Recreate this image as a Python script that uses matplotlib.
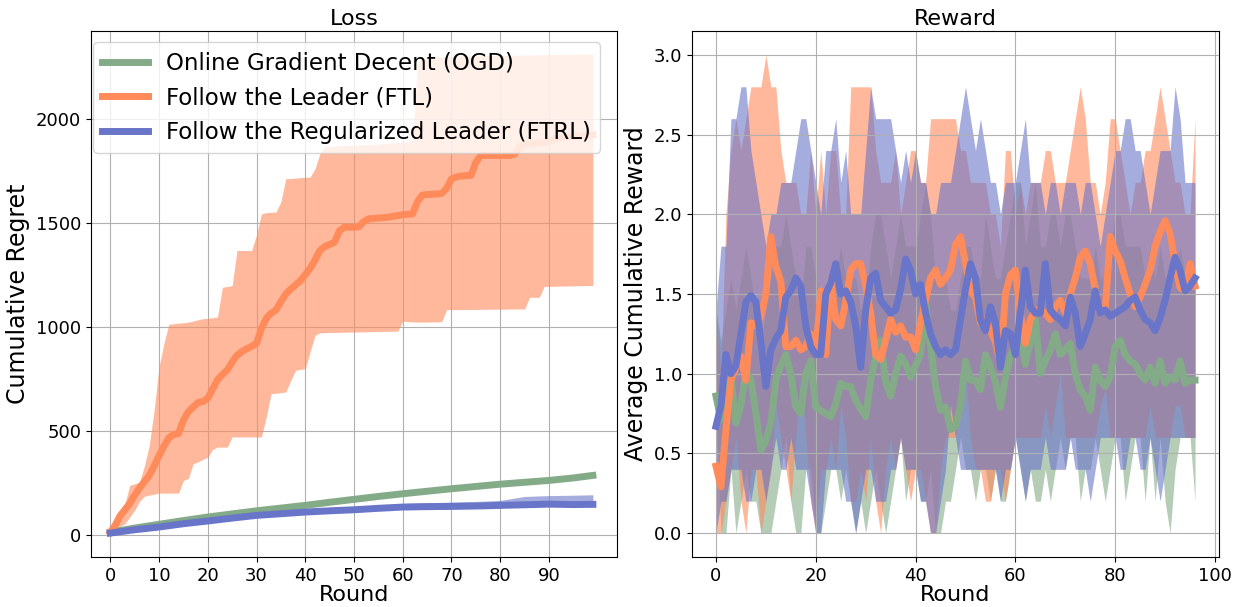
import numpy as np
import matplotlib
matplotlib.use("Agg")
import matplotlib.pyplot as plt

# ---------------- colours ----------------
C_OGD = "#84ab88"
C_FTL = "#ff8a5a"
C_FTRL = "#6975c8"

labels = ["Online Gradient Decent (OGD)", "Follow the Leader (FTL)",
          "Follow the Regularized Leader (FTRL)"]

# ---------------- Loss panel data ----------------
loss_rounds = list(range(0, 100))

ftl_mean = [12, 45, 90, 120, 150, 190, 225, 255, 285, 330,
            380, 425, 465, 482, 486, 550, 590, 614, 635, 640,
            655, 700, 745, 770, 792, 830, 862, 880, 894, 905,
            920, 990, 1040, 1065, 1080, 1120, 1157, 1180, 1200, 1221,
            1250, 1280, 1320, 1366, 1385, 1395, 1406, 1460, 1478, 1478,
            1478, 1480, 1505, 1518, 1520, 1522, 1524, 1526, 1530, 1534,
            1538, 1540, 1542, 1600, 1632, 1635, 1636, 1638, 1640, 1665,
            1710, 1720, 1724, 1726, 1727, 1790, 1823, 1823, 1823, 1823,
            1823, 1823, 1823, 1830, 1865, 1875, 1880, 1882, 1884, 1886,
            1890, 1900, 1905, 1908, 1910, 1912, 1915, 1918, 1920, 1922]

ftl_upper = [12, 50, 100, 149, 237, 245, 253, 330, 430, 598,
             806, 918, 1011, 1014, 1017, 1019, 1022, 1027, 1033, 1038,
             1040, 1043, 1046, 1189, 1193, 1197, 1366, 1366, 1366, 1366,
             1440, 1542, 1548, 1550, 1551, 1600, 1711, 1712, 1714, 1716,
             1718, 1719, 1760, 1831, 1864, 1866, 1868, 1869, 1870, 1871,
             1872, 1874, 1875, 1876, 1877, 1878, 1880, 1882, 1884, 1886,
             1888, 1889, 1890, 2260, 2295, 2296, 2297, 2297, 2298, 2298,
             2299, 2299, 2300, 2300, 2301, 2301, 2302, 2302, 2303, 2303,
             2304, 2304, 2305, 2305, 2306, 2306, 2306, 2307, 2307, 2307,
             2308, 2308, 2308, 2309, 2309, 2309, 2310, 2310, 2310, 2310]

ftl_lower = [12, 25, 40, 53, 85, 117, 160, 185, 190, 195,
             200, 200, 200, 200, 200, 261, 270, 341, 350, 362,
             373, 410, 421, 421, 421, 470, 470, 470, 470, 470,
             470, 470, 566, 678, 680, 683, 686, 740, 790, 795,
             798, 880, 958, 970, 971, 972, 972, 973, 973, 974,
             974, 975, 975, 976, 976, 977, 977, 978, 978, 979,
             1027, 1024, 1023, 1022, 1022, 1022, 1023, 1023, 1024, 1082,
             1082, 1082, 1082, 1083, 1083, 1083, 1083, 1084, 1084, 1084,
             1084, 1084, 1085, 1085, 1085, 1085, 1141, 1141, 1141, 1193,
             1194, 1194, 1195, 1195, 1196, 1196, 1197, 1197, 1198, 1198]

smooth_rounds = [0, 5, 10, 15, 20, 25, 30, 35, 40, 45,
                 50, 55, 60, 65, 70, 75, 80, 85, 90, 95, 99]
ogd_mean = [12, 32, 50, 68, 85, 100, 115, 128, 141, 156,
            170, 184, 197, 209, 221, 232, 243, 252, 261, 273, 285]
ogd_upper = [12, 33, 52, 70, 87, 102, 117, 130, 143, 158,
             172, 186, 199, 211, 223, 234, 245, 254, 263, 275, 287]
ogd_lower = [12, 31, 48, 66, 83, 98, 113, 126, 139, 154,
             168, 182, 195, 207, 219, 230, 241, 250, 259, 271, 283]
ftrl_mean = [8, 24, 37, 53, 66, 80, 93, 101, 109, 115,
             120, 127, 133, 135, 136, 138, 141, 144, 147, 145, 146]
ftrl_upper = [9, 26, 40, 56, 70, 84, 97, 106, 114, 122,
              128, 140, 150, 154, 157, 160, 165, 184, 188, 190, 192]
ftrl_lower = [6, 21, 34, 50, 62, 76, 89, 97, 104, 110,
              115, 121, 127, 129, 131, 133, 136, 139, 141, 140, 141]

loss_xticks = [0, 10, 20, 30, 40, 50, 60, 70, 80, 90]
loss_yticks = [0, 500, 1000, 1500, 2000]

# ---------------- Reward panel data ----------------
reward_rounds = list(range(0, 97))

ogd_rew = [0.86, 0.71, 0.79, 0.98, 0.69, 0.80, 1.02, 0.96, 0.75, 0.52,
           0.58, 0.69, 0.96, 1.05, 1.12, 1.00, 0.79, 0.75, 1.00, 1.08,
           0.79, 0.77, 0.75, 0.73, 0.81, 0.94, 0.92, 0.92, 0.83, 0.78,
           0.73, 0.96, 1.10, 1.21, 0.95, 0.86, 1.00, 1.11, 1.06, 0.98,
           1.05, 1.12, 1.44, 1.17, 0.92, 0.77, 0.79, 0.65, 0.67, 0.80,
           1.08, 0.96, 0.96, 0.90, 1.12, 1.04, 0.95, 0.79, 0.98, 1.11,
           1.18, 1.25, 1.06, 1.20, 1.34, 1.00, 1.08, 1.15, 1.25, 1.12,
           1.15, 1.19, 1.00, 0.90, 0.86, 0.77, 1.04, 0.96, 0.92, 0.98,
           1.17, 1.21, 1.12, 1.08, 1.06, 1.00, 0.96, 1.04, 0.94, 1.08,
           0.94, 0.98, 0.96, 1.08, 0.94, 0.96, 0.96]

ftl_rew = [0.42, 0.29, 0.65, 0.96, 1.04, 1.11, 0.96, 1.32, 1.30, 1.36,
           1.50, 1.86, 1.67, 1.58, 1.17, 1.17, 1.21, 1.15, 1.17, 1.25,
           1.12, 1.52, 1.12, 1.59, 1.34, 1.30, 1.45, 1.65, 1.69, 1.69,
           1.55, 1.38, 1.12, 1.09, 1.21, 1.34, 1.26, 1.30, 1.23, 1.23,
           1.15, 1.32, 1.46, 1.60, 1.65, 1.56, 1.60, 1.65, 1.81, 1.86,
           1.69, 1.52, 1.48, 1.32, 1.34, 1.27, 1.20, 1.06, 1.50, 1.62,
           1.65, 1.38, 1.19, 1.34, 1.40, 1.40, 1.38, 1.34, 1.42, 1.46,
           1.38, 1.50, 1.60, 1.73, 1.77, 1.69, 1.53, 1.38, 1.40, 1.86,
           1.77, 1.71, 1.60, 1.50, 1.42, 1.48, 1.56, 1.65, 1.80, 1.89,
           1.96, 1.88, 1.69, 1.54, 1.52, 1.69, 1.55]

ftrl_rew = [0.67, 0.80, 1.12, 1.00, 1.05, 1.25, 1.45, 1.49, 1.45, 1.20,
            0.92, 1.15, 1.22, 1.27, 1.48, 1.52, 1.60, 1.55, 1.30, 1.17,
            1.12, 1.12, 1.50, 1.57, 1.69, 1.50, 1.52, 1.45, 1.30, 1.04,
            1.40, 1.60, 1.63, 1.46, 1.42, 1.38, 1.40, 1.53, 1.72, 1.65,
            1.50, 1.56, 1.38, 1.25, 1.17, 1.12, 1.15, 1.12, 1.15, 1.34,
            1.53, 1.69, 1.60, 1.34, 1.27, 1.42, 1.32, 1.04, 1.27, 1.25,
            1.12, 1.38, 1.65, 1.42, 1.38, 1.38, 1.69, 1.40, 1.36, 1.34,
            1.30, 1.48, 1.38, 1.17, 1.25, 1.34, 1.52, 1.38, 1.40, 1.36,
            1.38, 1.40, 1.42, 1.46, 1.48, 1.40, 1.34, 1.32, 1.27, 1.35,
            1.46, 1.60, 1.73, 1.65, 1.52, 1.55, 1.60]

ogd_rew_hi = [1.4, 1.2, 1.4, 1.6, 1.4, 1.6, 1.8, 1.6, 1.4, 1.2,
              1.4, 1.6, 1.8, 1.8, 2.0, 1.8, 1.6, 1.4, 1.8, 1.8,
              1.6, 1.4, 1.4, 1.4, 1.6, 1.8, 1.6, 1.6, 1.6, 1.4,
              1.4, 1.8, 2.0, 2.0, 1.8, 1.6, 1.8, 2.0, 1.8, 1.8,
              1.8, 2.0, 2.2, 2.0, 1.6, 1.6, 1.6, 1.4, 1.4, 1.6,
              1.8, 1.8, 1.6, 1.6, 2.0, 1.8, 1.6, 1.6, 1.8, 2.0,
              2.2, 2.2, 1.8, 2.0, 2.2, 1.8, 1.8, 2.0, 2.0, 1.8,
              2.0, 2.0, 1.8, 1.6, 1.6, 1.6, 1.8, 1.6, 1.6, 1.8,
              2.0, 2.0, 1.8, 1.8, 1.8, 1.8, 1.6, 1.8, 1.6, 1.8,
              1.6, 1.6, 1.6, 1.8, 1.6, 1.6, 1.6]
ogd_rew_lo = [0.8, 0.0, 0.0, 0.4, 0.0, 0.2, 0.4, 0.2, 0.2, 0.0,
              0.0, 0.0, 0.2, 0.4, 0.6, 0.2, 0.0, 0.0, 0.4, 0.4,
              0.0, 0.0, 0.2, 0.4, 0.4, 0.2, 0.4, 0.2, 0.0, 0.2,
              0.0, 0.2, 0.4, 0.2, 0.0, 0.2, 0.4, 0.6, 0.2, 0.4,
              0.4, 0.2, 0.2, 0.4, 0.0, 0.0, 0.2, 0.2, 0.4, 0.6,
              0.4, 0.4, 0.2, 0.4, 0.4, 0.2, 0.4, 0.2, 0.2, 0.4,
              0.6, 0.4, 0.2, 0.4, 0.2, 0.2, 0.4, 0.2, 0.4, 0.6,
              0.4, 0.6, 0.6, 0.2, 0.4, 0.4, 0.6, 0.4, 0.2, 0.4,
              0.6, 0.6, 0.2, 0.4, 0.6, 0.6, 0.2, 0.6, 0.2, 0.6,
              0.2, 0.0, 0.4, 0.6, 0.6, 0.6, 0.2]

ftl_rew_hi = [1.4, 1.0, 2.0, 2.4, 2.6, 2.4, 2.6, 2.8, 2.8, 2.8,
              3.0, 2.8, 2.8, 2.4, 2.2, 2.2, 2.2, 2.0, 2.0, 2.4,
              2.0, 2.4, 2.0, 2.4, 2.4, 2.0, 2.0, 2.8, 2.8, 2.8,
              2.8, 2.8, 2.4, 2.2, 2.2, 2.2, 2.4, 2.0, 2.2, 2.4,
              2.4, 2.2, 2.2, 2.6, 2.6, 2.6, 2.6, 2.6, 2.6, 2.4,
              2.4, 2.2, 2.2, 2.2, 2.2, 2.0, 2.0, 1.8, 2.4, 2.4,
              2.0, 2.2, 2.0, 2.2, 2.2, 2.2, 2.4, 2.4, 2.2, 2.2,
              2.2, 2.4, 2.6, 2.8, 2.6, 2.2, 2.2, 2.0, 2.2, 2.6,
              2.6, 2.4, 2.2, 2.0, 2.2, 2.2, 2.4, 2.4, 2.6, 2.8,
              2.6, 2.4, 2.2, 2.2, 2.0, 2.0, 2.6]
ftl_rew_lo = [0.0, 0.0, 0.2, 0.4, 0.6, 0.2, 0.0, 0.4, 0.4, 0.0,
              0.2, 0.4, 0.8, 0.6, 0.4, 0.2, 0.6, 1.0, 0.6, 0.2,
              0.0, 0.4, 0.4, 0.6, 0.4, 0.8, 0.6, 0.2, 0.2, 0.4,
              0.2, 0.6, 0.2, 0.0, 0.4, 0.6, 0.4, 0.6, 0.4, 0.2,
              0.4, 0.4, 0.2, 0.0, 0.0, 0.4, 0.6, 0.6, 0.6, 0.8,
              1.0, 0.6, 0.4, 0.4, 0.2, 0.2, 0.4, 0.4, 0.2, 0.4,
              0.6, 0.6, 0.6, 0.6, 0.6, 0.6, 0.8, 0.6, 0.8, 1.0,
              0.6, 0.6, 0.6, 0.6, 0.6, 0.6, 0.6, 0.8, 0.9, 0.6,
              0.6, 0.6, 0.6, 0.6, 0.6, 0.6, 0.6, 0.8, 0.6, 0.6,
              0.6, 0.6, 0.8, 0.8, 0.6, 0.6, 0.6]

ftrl_rew_hi = [1.4, 1.8, 1.8, 2.6, 2.6, 2.8, 2.8, 2.4, 2.2, 2.0,
               1.8, 2.0, 2.0, 2.2, 2.2, 2.2, 2.4, 2.6, 2.6, 2.4,
               2.2, 2.0, 2.4, 2.4, 2.6, 2.2, 2.4, 2.0, 2.0, 2.0,
               2.4, 2.8, 2.6, 2.6, 2.6, 2.6, 2.4, 2.2, 2.4, 2.2,
               2.4, 2.2, 2.2, 2.0, 2.0, 2.2, 2.2, 2.2, 2.4, 2.6,
               2.8, 2.6, 2.4, 2.6, 2.4, 2.2, 2.2, 2.0, 2.2, 2.2,
               2.2, 2.4, 2.6, 2.2, 2.2, 2.2, 2.0, 2.2, 2.2, 2.0,
               2.2, 2.2, 2.2, 2.0, 2.2, 2.2, 2.0, 1.8, 2.0, 2.2,
               2.4, 2.4, 2.6, 2.6, 2.4, 2.4, 2.2, 2.0, 2.2, 2.4,
               2.4, 2.4, 2.8, 2.6, 2.2, 2.2, 2.2]
ftrl_rew_lo = [0.0, 0.2, 0.2, 0.4, 0.4, 0.4, 0.2, 0.2, 0.4, 0.4,
               0.2, 0.4, 0.6, 0.4, 0.4, 0.6, 0.4, 0.4, 0.4, 0.2,
               0.0, 0.0, 0.4, 0.4, 0.4, 0.4, 0.2, 0.2, 0.0, 0.2,
               0.4, 0.4, 0.2, 0.2, 0.2, 0.4, 0.4, 0.6, 0.4, 0.4,
               0.4, 0.2, 0.2, 0.0, 0.0, 0.2, 0.4, 0.8, 0.6, 0.4,
               0.4, 0.4, 0.4, 0.4, 0.4, 0.4, 0.4, 0.2, 0.4, 0.4,
               0.6, 0.4, 0.2, 0.4, 0.4, 0.4, 0.6, 0.4, 0.4, 0.4,
               0.4, 0.6, 0.4, 0.4, 0.4, 0.2, 0.4, 0.6, 0.6, 0.6,
               0.6, 0.4, 0.4, 0.6, 0.6, 0.4, 0.4, 0.6, 0.4, 0.2,
               0.4, 0.6, 0.6, 0.6, 0.6, 0.6, 0.6]

reward_xticks = [0, 20, 40, 60, 80, 100]
reward_yticks = [0.0, 0.5, 1.0, 1.5, 2.0, 2.5, 3.0]

# ---------------- figure ----------------
W, H = 1236, 607
fig = plt.figure(figsize=(W / 100, H / 100), dpi=100)
ax1 = fig.add_axes([91 / W, 1 - 557 / H, (617 - 91) / W, (557 - 31) / H])
ax2 = fig.add_axes([692 / W, 1 - 557 / H, (1219 - 692) / W, (557 - 31) / H])

LW = 5
FILL_A = 0.6

# Loss panel
ax1.fill_between(smooth_rounds, ogd_lower, ogd_upper, color=C_OGD, alpha=FILL_A, lw=0)
ax1.plot(smooth_rounds, ogd_mean, color=C_OGD, lw=LW, label=labels[0])
ax1.fill_between(loss_rounds, ftl_lower, ftl_upper, color=C_FTL, alpha=FILL_A, lw=0)
ax1.plot(loss_rounds, ftl_mean, color=C_FTL, lw=LW, label=labels[1])
ax1.fill_between(smooth_rounds, ftrl_lower, ftrl_upper, color=C_FTRL, alpha=FILL_A, lw=0)
ax1.plot(smooth_rounds, ftrl_mean, color=C_FTRL, lw=LW, label=labels[2])
ax1.set_xlim(-3.95, 103.95)
ax1.set_ylim(-107, 2421)
ax1.set_xticks(loss_xticks)
ax1.set_yticks(loss_yticks)
ax1.grid(True, color="#b0b0b0", lw=0.8)
ax1.set_axisbelow(True)
ax1.set_title("Loss", fontsize=16, pad=4)
ax1.set_xlabel("Round", fontsize=16, labelpad=0)
ax1.set_ylabel("Cumulative Regret", fontsize=17)
ax1.tick_params(labelsize=13)
ax1.legend(loc="upper left", fontsize=16.5, handlelength=2.0,
           bbox_to_anchor=(-0.018, 1.0))

# Reward panel
ax2.fill_between(reward_rounds, ogd_rew_lo, ogd_rew_hi, color=C_OGD, alpha=FILL_A, lw=0)
ax2.fill_between(reward_rounds, ftl_rew_lo, ftl_rew_hi, color=C_FTL, alpha=FILL_A, lw=0)
ax2.fill_between(reward_rounds, ftrl_rew_lo, ftrl_rew_hi, color=C_FTRL, alpha=FILL_A, lw=0)
ax2.plot(reward_rounds, ogd_rew, color=C_OGD, lw=LW)
ax2.plot(reward_rounds, ftl_rew, color=C_FTL, lw=LW)
ax2.plot(reward_rounds, ftrl_rew, color=C_FTRL, lw=LW)
ax2.set_xlim(-4.8, 100.8)
ax2.set_ylim(-0.15, 3.15)
ax2.set_xticks(reward_xticks)
ax2.set_yticks(reward_yticks)
ax2.grid(True, color="#b0b0b0", lw=0.8)
ax2.set_title("Reward", fontsize=16, pad=4)
ax2.set_xlabel("Round", fontsize=16, labelpad=0)
ax2.set_ylabel("Average Cumulative Reward", fontsize=17)
ax2.tick_params(labelsize=13)

fig.savefig("out.png", dpi=100)
